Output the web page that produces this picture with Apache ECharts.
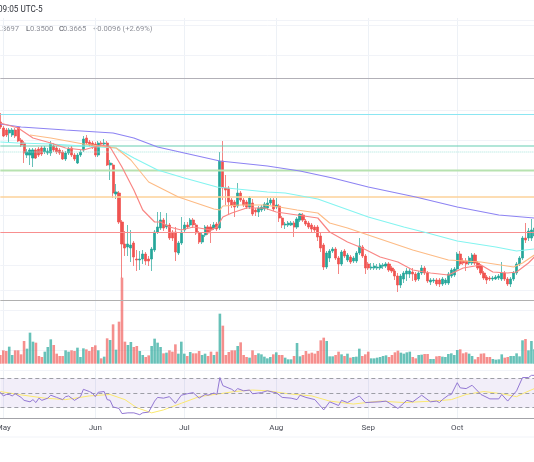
<!DOCTYPE html>
<html>
<head>
<meta charset="utf-8">
<script src="https://cdn.jsdelivr.net/npm/echarts@6/dist/echarts.min.js"></script>
<style>
  html, body { margin: 0; padding: 0; background: #fff; }
  #chart { width: 534px; height: 462px; }
</style>
</head>
<body>
<div id="chart"></div>
<script>
// daily candles, Apr 30 onward
const openP = [
  .586,.574,.570,.564,.560,.570,.576,.550,.544,.520,
  .520,.514,.530,.532,.534,.526,.524,.524,.538,.534,
  .530,.526,.512,.524,.534,.520,.504,.520,.530,.554,
  .546,.544,.542,.520,.544,.542,.544,.500,.500,.442,
  .444,.386,.342,.336,.334,.344,.312,.310,.312,.322,
  .312,.312,.330,.366,.374,.390,.376,.380,.366,.366,
  .324,.344,.370,.380,.380,.390,.380,.364,.346,.360,
  .376,.376,.374,.382,.374,.508,.454,.454,.430,.426,
  .418,.444,.430,.426,.416,.424,.410,.406,.410,.412,
  .414,.424,.430,.416,.418,.394,.380,.380,.380,.384,
  .376,.390,.400,.388,.384,.380,.376,.376,.358,.340,
  .296,.314,.328,.332,.314,.302,.328,.310,.316,.308,
  .308,.324,.336,.318,.302,.294,.294,.294,.294,.298,
  .298,.302,.294,.288,.278,.260,.272,.282,.282,.286,
  .282,.272,.284,.294,.284,.266,.268,.270,.270,.262,
  .264,.264,.278,.280,.292,.322,.308,.308,.304,.304,
  .320,.304,.298,.284,.276,.274,.272,.272,.274,.272,
  .284,.272,.262,.272,.284,.302,.314,.354,.354,.354,
  .358];
const closeP = [
  .576,.558,.560,.570,.570,.558,.548,.540,.524,.526,
  .530,.530,.514,.520,.522,.534,.528,.542,.530,.526,
  .524,.512,.524,.532,.520,.512,.520,.526,.552,.544,
  .540,.536,.520,.544,.542,.544,.500,.504,.444,.446,
  .386,.342,.334,.342,.340,.316,.310,.312,.322,.308,
  .308,.332,.366,.376,.390,.374,.380,.354,.354,.326,
  .344,.366,.380,.376,.390,.380,.364,.346,.360,.376,
  .364,.370,.380,.372,.508,.454,.450,.426,.420,.416,
  .444,.430,.420,.416,.434,.402,.406,.414,.416,.422,
  .424,.430,.412,.420,.394,.380,.382,.384,.384,.376,
  .392,.402,.390,.382,.376,.372,.370,.356,.334,.296,
  .324,.328,.332,.314,.302,.326,.318,.320,.306,.314,
  .324,.338,.318,.294,.294,.296,.298,.296,.300,.300,
  .302,.290,.288,.278,.260,.278,.284,.288,.288,.282,
  .270,.284,.294,.284,.268,.270,.270,.262,.262,.272,
  .270,.282,.290,.292,.322,.302,.304,.302,.314,.320,
  .304,.294,.284,.274,.270,.272,.274,.276,.278,.284,
  .272,.262,.272,.284,.302,.314,.354,.350,.368,.370,
  .374];
const lowP = [
  .572,.556,.556,.546,.556,.554,.546,.536,.504,.514,
  .500,.496,.512,.516,.518,.522,.520,.518,.526,.522,
  .520,.510,.508,.520,.516,.508,.502,.516,.526,.540,
  .536,.532,.516,.516,.536,.538,.498,.470,.434,.432,
  .382,.274,.318,.318,.306,.298,.288,.290,.302,.300,
  .298,.288,.326,.362,.370,.368,.372,.350,.348,.308,
  .320,.340,.366,.372,.376,.374,.360,.342,.342,.356,
  .360,.344,.370,.368,.370,.430,.420,.400,.414,.396,
  .414,.426,.416,.412,.412,.398,.398,.396,.406,.408,
  .410,.420,.408,.412,.386,.374,.372,.376,.378,.356,
  .372,.386,.386,.378,.372,.366,.364,.348,.326,.290,
  .292,.306,.324,.310,.282,.298,.314,.306,.302,.304,
  .304,.320,.314,.282,.290,.290,.290,.290,.290,.292,
  .294,.286,.284,.270,.246,.254,.264,.268,.274,.268,
  .266,.268,.280,.280,.264,.260,.264,.258,.256,.258,
  .260,.260,.274,.276,.288,.298,.300,.288,.300,.300,
  .300,.290,.280,.270,.262,.268,.268,.270,.270,.268,
  .268,.258,.256,.268,.280,.298,.310,.344,.348,.348,
  .352];
const highP = [
  .604,.578,.574,.574,.574,.574,.578,.554,.548,.532,
  .534,.534,.534,.536,.538,.538,.534,.548,.544,.538,
  .534,.530,.528,.536,.538,.524,.524,.530,.558,.560,
  .550,.548,.546,.548,.548,.552,.548,.510,.504,.462,
  .448,.390,.368,.380,.370,.348,.330,.328,.330,.326,
  .318,.336,.370,.406,.406,.394,.404,.384,.370,.376,
  .348,.396,.386,.386,.394,.394,.384,.368,.364,.380,
  .380,.382,.386,.386,.526,.548,.480,.458,.434,.430,
  .464,.448,.434,.430,.438,.432,.414,.418,.420,.426,
  .434,.434,.434,.434,.422,.398,.386,.388,.388,.388,
  .396,.404,.404,.392,.388,.384,.380,.380,.364,.344,
  .328,.332,.336,.336,.318,.330,.332,.324,.320,.318,
  .328,.354,.340,.322,.306,.304,.304,.302,.304,.304,
  .306,.306,.298,.292,.284,.282,.288,.294,.294,.294,
  .286,.288,.300,.298,.288,.274,.274,.274,.274,.276,
  .274,.286,.294,.296,.326,.328,.314,.314,.318,.324,
  .324,.308,.302,.288,.280,.278,.278,.280,.282,.306,
  .288,.276,.276,.288,.306,.318,.358,.384,.374,.392,
  .380];
const volumes = [
  26,40,38,51,26,40,40,28,68,45,
  93,66,63,23,20,36,50,73,56,30,
  23,23,40,36,40,38,48,20,46,43,
  38,50,55,40,16,21,76,71,118,42,
  126,258,66,56,65,50,53,38,26,20,
  25,53,75,63,50,31,33,40,36,58,
  30,66,30,23,35,31,31,38,26,30,
  23,36,26,36,150,114,26,35,40,40,
  53,64,26,20,18,40,26,31,28,21,
  16,20,28,34,26,26,18,13,13,23,
  62,22,26,38,30,33,30,38,70,78,
  68,22,22,26,36,28,23,30,18,20,
  21,45,23,28,36,16,16,18,20,23,
  25,20,26,34,39,33,30,34,36,20,
  16,26,27,29,29,14,14,22,23,21,
  20,29,31,26,41,43,31,34,30,23,
  13,20,30,31,20,20,14,12,13,28,
  18,20,23,23,31,22,70,74,40,68,
  43];

const maBlue = [[0,.582],[7,.576],[22,.570],[38,.564],[45,.554],[53,.536],[62,.524],[74,.508],[90,.498],[101,.488],[112,.474],[124,.456],[140,.436],[154,.416],[168,.400],[180,.394]];
const maCyan = [[0,.546],[6,.544],[17,.542],[28,.538],[39,.534],[45,.514],[53,.490],[62,.474],[73,.456],[90,.446],[96,.444],[107,.432],[124,.396],[136,.376],[144,.364],[154,.348],[167,.336],[174,.328],[180,.332]];
const maOrange = [[10,.560],[17,.554],[28,.542],[39,.534],[44,.510],[50,.466],[60,.436],[72,.412],[74,.410],[75,.418],[81,.420],[89,.420],[94,.416],[100,.410],[107,.404],[111,.384],[117,.374],[122,.364],[128,.352],[139,.330],[151,.310],[162,.306],[173,.296],[176,.304],[180,.320]];
const maRed = [[0,.584],[6,.574],[11,.554],[17,.544],[22,.534],[28,.530],[34,.540],[37,.536],[41,.496],[45,.450],[48,.410],[52,.386],[54,.386],[57,.376],[61,.370],[65,.376],[71,.370],[73,.376],[75,.396],[78,.404],[83,.414],[89,.414],[93,.406],[100,.400],[107,.394],[111,.366],[117,.346],[122,.334],[128,.316],[134,.306],[139,.290],[145,.284],[151,.280],[156,.294],[162,.300],[166,.286],[171,.284],[174,.286],[178,.304],[180,.316]];

// rsi pane
const rsiLine = [[0,51],[1,46],[2,48],[3,48],[4,46],[5,49],[7,44],[8,40],[10,38],[11,41],[12,37],[13,43],[14,40],[16,43],[17,47],[19,44],[21,41],[22,45],[23,46],[25,40],[27,45],[28,55],[30,52],[31,50],[32,45],[33,51],[35,52],[36,41],[37,40],[38,31],[40,29],[41,22],[43,23],[45,23],[47,20.5],[48,23],[50,24],[52,39],[53,44],[55,43],[57,45],[59,36],[61,47],[63,49],[65,50.5],[67,43],[69,48],[70,47],[72,50],[73,48],[74,71],[75,60],[78,55],[79,52],[80,56],[82,53],[84,54],[85,49],[88,50.5],[90,53],[92,51],[93,50.5],[95,44],[98,43],[100,41],[101,47],[103,44],[106,41],[109,27],[111,38],[114,33],[115,40],[117,37],[121,46],[123,37],[128,38],[130,39],[134,29],[137,40],[139,38],[142,47],[145,38],[147,39],[148,37],[149,41],[151,47],[152,48],[154,64],[155,57],[157,56],[159,60.5],[162,48],[165,42],[168,42],[169,48],[171,39],[174,53],[176,71],[178,71],[179,74],[180,74]];
const rsiAverage = [[0,52],[6,48],[15,43],[22,41],[30,46],[37,48],[42,41],[46,30],[51,23],[55,27],[61,36],[67,45],[74,49],[79,52],[85,54],[90,53],[97,49],[105,46],[111,39],[119,35],[128,39],[136,37],[146,39],[152,41],[157,48],[163,52],[169,49],[174,45],[176,49],[180,56]];
const rsiLevels = [70, 50, 30];

// horizontal levels
const levelPrices = [.673, .601, .538, .526, .489, .436, .365, .229];
const levelColors = ['#b2b0b7', '#8be6f2', '#66cdb2', '#a5e3dc', '#b7e2b0', '#fdd29a', '#f88f8f', '#b0b0b0'];
const levelWidths = [1.2, 1.2, 1.2, 1, 2, 1.5, 1.2, 1.2];
const levelTypes = ['solid', 'solid', 'solid', 'dotted', 'solid', 'solid', 'solid', 'solid'];
const gridPrices = [.794, .784, .724, .610, .546, .476, .396, .304, .254, .214, .174, .132, .088];

const tickDays = [1, 32, 62, 93, 124, 154];
const tickLabels = ['May', 'Jun', 'Jul', 'Aug', 'Sep', 'Oct'];

const timeLabel = '09:05 UTC-5';
const highLabel = '.3697';
const lowLabel = '0.3500';
const closeLabel = '0.3665';
const changeLabel = '+0.0096 (+2.69%)';

const days = openP.map((v, i) => {
  const d = new Date(Date.UTC(2023, 3, 30 + i));
  return d.toISOString().split('T')[0];
});

const upColor = '#26a69a';
const downColor = '#ef5350';
const isTick = (index) => tickDays.indexOf(index) >= 0;

const candles = openP.map((o, i) => [o, closeP[i], lowP[i], highP[i]]);
const volumeBars = volumes.map((v, i) => ({
  value: v,
  itemStyle: { color: closeP[i] >= openP[i] ? 'rgba(38,166,154,0.7)' : 'rgba(239,83,80,0.65)' }
}));

const flatLine = (name, data, color, xIndex, z, width) => ({
  name: name,
  type: 'line',
  xAxisIndex: xIndex,
  yAxisIndex: xIndex,
  data: data,
  symbol: 'none',
  z: z,
  lineStyle: { color: color, width: width || 1 },
  silent: true
});

const levelSeries = levelPrices.map((p, i) => {
  const s = flatLine('Level ' + i, [[0, p], [180, p]], levelColors[i], 0, 4, levelWidths[i]);
  s.lineStyle.type = levelTypes[i];
  return s;
});

const headerText = (text, left, top, size, fill) => ({
  type: 'text', left: left, top: top, silent: true,
  style: { text: text, fontFamily: 'Roboto', fontSize: size, fill: fill }
});

const gridBox = (top, height) => ({
  left: 0.33, width: 534.06, top: top, height: height, outerBoundsMode: 'none', containLabel: false
});

const option = {
  animation: false,
  backgroundColor: '#fff',
  grid: [gridBox(18, 400), gridBox(270, 93.67), gridBox(368, 50)],
  xAxis: [
    {
      type: 'category', gridIndex: 0, data: days, boundaryGap: false,
      axisLine: { show: false }, axisTick: { show: false }, axisLabel: { show: false },
      splitLine: { show: true, interval: isTick, lineStyle: { color: '#edf1f6', width: 1 } }
    },
    { type: 'category', gridIndex: 1, data: days, boundaryGap: false, show: false },
    {
      type: 'category', gridIndex: 2, data: days, boundaryGap: false,
      axisLine: { show: true, lineStyle: { color: '#a3a3a8', width: 1.2 } },
      axisTick: { show: false },
      splitLine: { show: false },
      axisLabel: {
        interval: isTick,
        margin: 6,
        color: '#4a4d57',
        fontFamily: 'Roboto',
        fontSize: 8,
        formatter: (value, index) => tickLabels[tickDays.indexOf(index)]
      }
    }
  ],
  yAxis: [
    { type: 'value', gridIndex: 0, min: -0.006, max: 0.794, show: false, splitLine: { show: false } },
    { type: 'value', gridIndex: 1, min: 0, max: 281, show: false, splitLine: { show: false } },
    { type: 'value', gridIndex: 2, min: 16, max: 84, show: false, splitLine: { show: false } }
  ],
  series: [
    {
      name: 'Price',
      type: 'candlestick',
      xAxisIndex: 0,
      yAxisIndex: 0,
      data: candles,
      barWidth: 2.6,
      z: 3,
      silent: true,
      itemStyle: {
        color: upColor,
        color0: downColor,
        borderColor: 'rgba(38,166,154,0.7)',
        borderColor0: 'rgba(239,83,80,0.7)',
        borderWidth: 1
      },
      markLine: {
        silent: true,
        symbol: 'none',
        animation: false,
        label: { show: false },
        z: 1,
        data: gridPrices.map((p) => ({ yAxis: p, lineStyle: { color: '#f1f3f8', width: 1, type: 'solid' } }))
      }
    },
    ...levelSeries,
    flatLine('MA200', maBlue, '#8d83f3', 0, 4, 1.1),
    flatLine('MA100', maCyan, '#84f4f0', 0, 4, 1.1),
    flatLine('MA50', maOrange, '#fdbb85', 0, 4, 1.1),
    flatLine('MA20', maRed, '#f98684', 0, 4, 1.2),
    {
      name: 'Volume',
      type: 'bar',
      xAxisIndex: 1,
      yAxisIndex: 1,
      data: volumeBars,
      barWidth: 2.6,
      silent: true,
      z: 2
    },
    Object.assign(flatLine('RSI', rsiLine, '#9277d3', 2, 5), {
      markArea: {
        silent: true,
        itemStyle: { color: 'rgba(126,87,194,0.1)' },
        data: [[{ yAxis: rsiLevels[2] }, { yAxis: rsiLevels[0] }]]
      },
      markLine: {
        silent: true,
        symbol: 'none',
        animation: false,
        label: { show: false },
        lineStyle: { color: '#9d9ea6', width: 1, type: [4, 3] },
        data: rsiLevels.map((v) => ({ yAxis: v }))
      }
    }),
    flatLine('RSI MA', rsiAverage, '#fbe96f', 2, 4)
  ],
  graphic: [
    { type: 'line', silent: true, shape: { x1: 0, y1: 437, x2: 534, y2: 437 }, style: { stroke: '#f1f3f8', lineWidth: 1 } },
    headerText(timeLabel, -2, 6, 8.2, '#2f323a'),
    headerText(highLabel, 0, 25, 7.6, '#8e9099'),
    headerText('L', 26, 25, 7.6, '#4a4d57'),
    headerText(lowLabel, 30, 25, 7.6, '#8e9099'),
    headerText('C', 59, 25, 7.6, '#4a4d57'),
    headerText(closeLabel, 63, 25, 7.6, '#8e9099'),
    headerText(changeLabel, 93, 25, 7.6, '#8e9099')
  ]
};

const chart = echarts.init(document.getElementById('chart'));
chart.setOption(option);
</script>
</body>
</html>
